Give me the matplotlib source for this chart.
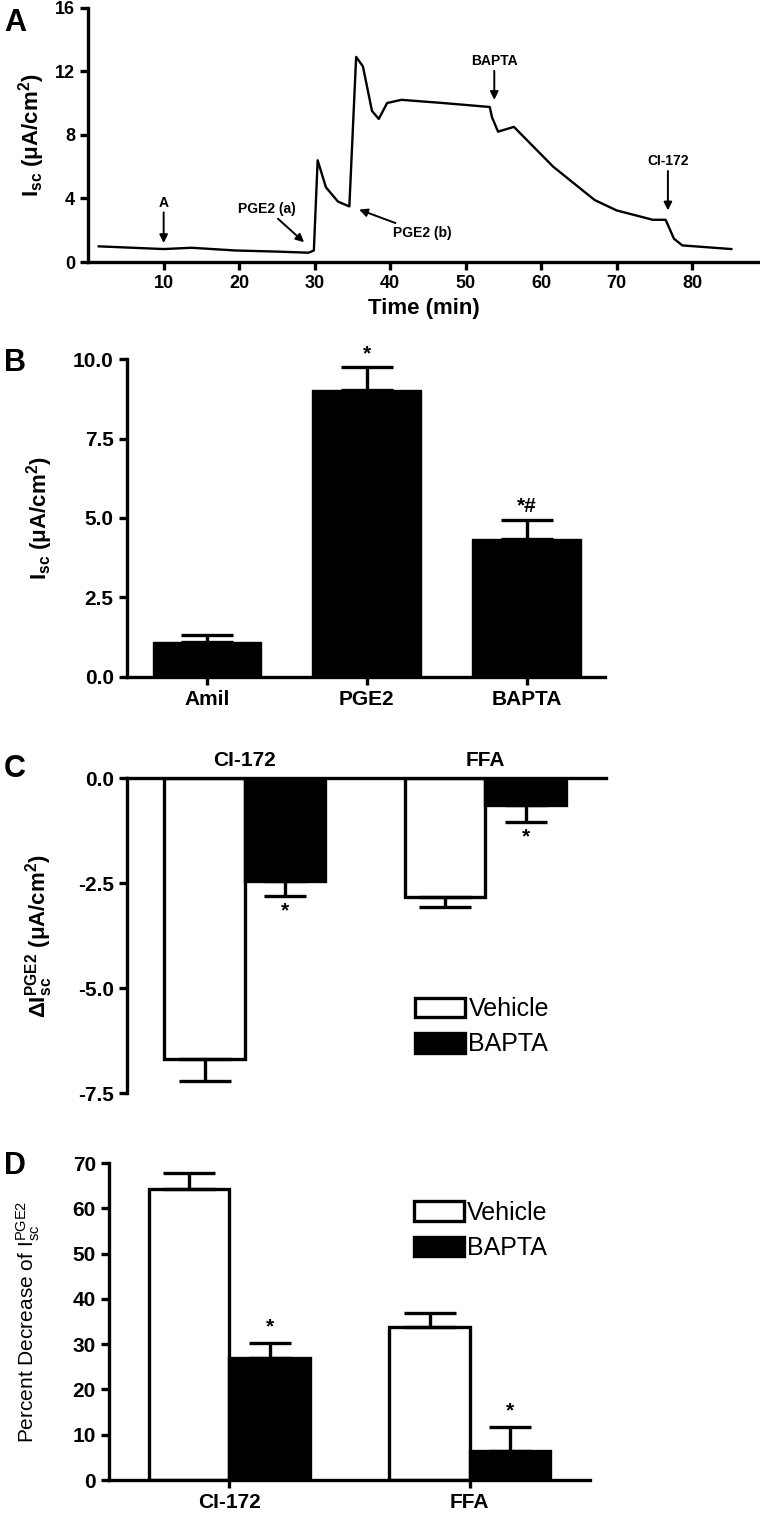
import matplotlib
matplotlib.use("Agg")
import numpy as np
import matplotlib.pyplot as plt
from matplotlib.patches import Patch

plt.rcParams['font.family'] = ['Liberation Sans Narrow', 'Liberation Sans', 'DejaVu Sans']
plt.rcParams['font.weight'] = 'bold'
plt.rcParams['axes.labelweight'] = 'bold'
plt.rcParams['mathtext.fontset'] = 'custom'
plt.rcParams['mathtext.rm'] = 'Liberation Sans'
plt.rcParams['mathtext.bf'] = 'Liberation Sans:bold'
plt.rcParams['mathtext.it'] = 'Liberation Sans:italic'

# panel A: Isc trace
time_min = [1.4, 10.0, 13.7, 19.5, 25.0, 29.2, 29.9, 30.4, 31.5, 33.1, 34.6, 35.5, 36.4,
            37.6, 38.5, 39.6, 41.5, 47.0, 53.2, 53.5, 54.3, 56.4, 61.6, 67.1, 70.0,
            74.8, 76.5, 77.6, 78.7, 85.2]
isc_trace = [0.99, 0.82, 0.9, 0.73, 0.66, 0.59, 0.73, 6.4, 4.7, 3.8, 3.5, 12.9, 12.3,
             9.5, 9.0, 10.0, 10.2, 10.0, 9.75, 9.1, 8.2, 8.5, 6.0, 3.9, 3.25,
             2.66, 2.66, 1.47, 1.05, 0.82]

# panel B
b_groups = ['Amil', 'PGE2', 'BAPTA']
b_means = [1.08, 9.02, 4.35]
b_sem = [0.24, 0.72, 0.6]
b_marks = ['', '*', '*#']

# panel C / D
cd_groups = ['CI-172', 'FFA']
c_vehicle = [-6.67, -2.82]
c_vehicle_sem = [0.53, 0.24]
c_bapta = [-2.44, -0.63]
c_bapta_sem = [0.36, 0.42]
d_vehicle = [64.3, 33.9]
d_vehicle_sem = [3.6, 2.9]
d_bapta = [27.0, 6.3]
d_bapta_sem = [3.2, 5.3]

fig = plt.figure(figsize=(7.6, 15.15), dpi=100)
LW = 2.4
narrow = ['Liberation Sans Narrow', 'Liberation Sans', 'DejaVu Sans']
arial = ['Liberation Sans', 'DejaVu Sans']


def style(ax, ticksize):
    for s in ['left', 'bottom', 'top', 'right']:
        ax.spines[s].set_linewidth(LW)
    ax.tick_params(width=LW, length=6, labelsize=ticksize)


# ---------------- A ----------------
axA = fig.add_axes([0.116, 0.827, 0.884, 0.168])
axA.plot(time_min, isc_trace, color='black', lw=1.7)
axA.set_xlim(0, 89)
axA.set_ylim(0, 16)
axA.set_xticks([10, 20, 30, 40, 50, 60, 70, 80])
axA.set_yticks([0, 4, 8, 12, 16])
axA.spines['top'].set_visible(False)
axA.spines['right'].set_visible(False)
style(axA, 13)
axA.set_xlabel('Time (min)', fontsize=16, labelpad=4)
axA.set_ylabel(r'$\mathbf{I_{sc}}$ (μA/cm$^{\mathbf{2}}$)', fontsize=16, labelpad=6)
ap = dict(arrowstyle='-|>', color='black', lw=1.4, mutation_scale=12, shrinkA=0, shrinkB=0)
axA.annotate('A', xy=(10, 1.2), xytext=(10, 3.3), ha='center', va='bottom', fontsize=10, arrowprops=ap)
axA.annotate('PGE2 (a)', xy=(28.6, 1.25), xytext=(23.7, 2.9), ha='center', va='bottom', fontsize=10, arrowprops=ap)
axA.annotate('PGE2 (b)', xy=(35.9, 3.3), xytext=(44.2, 1.4), ha='center', va='bottom', fontsize=10, arrowprops=ap)
axA.annotate('BAPTA', xy=(53.8, 10.2), xytext=(53.8, 12.2), ha='center', va='bottom', fontsize=10, arrowprops=ap)
axA.annotate('CI-172', xy=(76.8, 3.25), xytext=(76.8, 5.9), ha='center', va='bottom', fontsize=10, arrowprops=ap)
fig.text(0.005, 0.995, 'A', fontsize=22, family=arial, va='top')

# ---------------- B ----------------
axB = fig.add_axes([0.167, 0.5533, 0.629, 0.2096])
xb = np.arange(len(b_groups))
axB.bar(xb, b_means, width=0.68, color='black', edgecolor='black')
axB.errorbar(xb, b_means, yerr=[[0] * 3, b_sem], fmt='none', ecolor='black',
             elinewidth=LW, capsize=19, capthick=LW)
for x, m, s, t in zip(xb, b_means, b_sem, b_marks):
    axB.text(x, m + s + 0.12, t, ha='center', va='bottom', fontsize=15)
axB.set_xlim(-0.5, 2.49)
axB.set_ylim(0, 10)
axB.set_yticks([0, 2.5, 5, 7.5, 10])
axB.set_yticklabels(['0.0', '2.5', '5.0', '7.5', '10.0'])
axB.set_xticks(xb)
axB.set_xticklabels(b_groups, fontsize=17)
axB.spines['top'].set_visible(False)
axB.spines['right'].set_visible(False)
style(axB, 15)
axB.set_ylabel(r'$\mathbf{I_{sc}}$ (μA/cm$^{\mathbf{2}}$)', fontsize=16, family=arial)
axB.yaxis.set_label_coords(-0.15, 0.5)
fig.text(0.005, 0.77, 'B', fontsize=22, family=arial, va='top')

# ---------------- C ----------------
axC = fig.add_axes([0.167, 0.2783, 0.630, 0.208])
xc = np.arange(len(cd_groups))
w = 0.335
axC.bar(xc - w / 2, c_vehicle, width=w, color='white', edgecolor='black', linewidth=LW, label='Vehicle')
axC.bar(xc + w / 2, c_bapta, width=w, color='black', edgecolor='black', linewidth=LW, label='BAPTA')
axC.errorbar(xc - w / 2, c_vehicle, yerr=[c_vehicle_sem, [0] * 2], fmt='none', ecolor='black',
             elinewidth=LW, capsize=19, capthick=LW)
axC.errorbar(xc + w / 2, c_bapta, yerr=[c_bapta_sem, [0] * 2], fmt='none', ecolor='black',
             elinewidth=LW, capsize=15, capthick=LW)
for x, m, s in zip(xc + w / 2, c_bapta, c_bapta_sem):
    axC.text(x, m - s - 0.12, '*', ha='center', va='top', fontsize=15)
axC.set_xlim(-0.49, 1.5)
axC.set_ylim(-7.5, 0)
axC.set_yticks([-7.5, -5, -2.5, 0])
axC.set_yticklabels(['-7.5', '-5.0', '-2.5', '0.0'])
axC.xaxis.tick_top()
axC.set_xticks(xc)
axC.set_xticklabels(cd_groups, fontsize=17)
axC.spines['bottom'].set_visible(False)
axC.spines['right'].set_visible(False)
style(axC, 15)
axC.tick_params(axis='x', length=0, pad=6)
axC.set_ylabel(r'Δ$\mathbf{I_{sc}^{PGE2}}$ (μA/cm$^{\mathbf{2}}$)', fontsize=16, family=arial)
axC.yaxis.set_label_coords(-0.15, 0.5)
axC.legend(handles=[Patch(facecolor='white', edgecolor='black', linewidth=LW, label='Vehicle'),
                    Patch(facecolor='black', edgecolor='black', linewidth=LW, label='BAPTA')],
           loc='upper left', bbox_to_anchor=(0.575, 0.345), frameon=False, borderpad=0,
           handlelength=2.0, handleheight=0.85, handletextpad=0.15, labelspacing=0.45,
           prop={'family': narrow, 'weight': 'normal', 'size': 18})
fig.text(0.005, 0.502, 'C', fontsize=22, family=arial, va='top')

# ---------------- D ----------------
axD = fig.add_axes([0.1435, 0.0231, 0.633, 0.2092])
axD.bar(xc - w / 2, d_vehicle, width=w, color='white', edgecolor='black', linewidth=LW)
axD.bar(xc + w / 2, d_bapta, width=w, color='black', edgecolor='black', linewidth=LW)
axD.errorbar(xc - w / 2, d_vehicle, yerr=[[0] * 2, d_vehicle_sem], fmt='none', ecolor='black',
             elinewidth=LW, capsize=19, capthick=LW)
axD.errorbar(xc + w / 2, d_bapta, yerr=[[0] * 2, d_bapta_sem], fmt='none', ecolor='black',
             elinewidth=LW, capsize=15, capthick=LW)
for x, m, s in zip(xc + w / 2, d_bapta, d_bapta_sem):
    axD.text(x, m + s + 1.5, '*', ha='center', va='bottom', fontsize=15)
axD.set_xlim(-0.5, 1.5)
axD.set_ylim(0, 70)
axD.set_yticks(np.arange(0, 71, 10))
axD.set_xticks(xc)
axD.set_xticklabels(cd_groups, fontsize=17)
axD.spines['top'].set_visible(False)
axD.spines['right'].set_visible(False)
style(axD, 15)
axD.set_ylabel(r'Percent Decrease of $\mathregular{I_{sc}^{PGE2}}$', fontsize=15,
               family=arial, fontweight='normal')
axD.yaxis.set_label_coords(-0.14, 0.5)
axD.legend(handles=[Patch(facecolor='white', edgecolor='black', linewidth=LW, label='Vehicle'),
                    Patch(facecolor='black', edgecolor='black', linewidth=LW, label='BAPTA')],
           loc='upper left', bbox_to_anchor=(0.607, 0.92), frameon=False, borderpad=0,
           handlelength=2.0, handleheight=0.85, handletextpad=0.15, labelspacing=0.45,
           prop={'family': narrow, 'weight': 'normal', 'size': 18})
fig.text(0.005, 0.24, 'D', fontsize=22, family=arial, va='top')

fig.savefig('out.png', dpi=100)
